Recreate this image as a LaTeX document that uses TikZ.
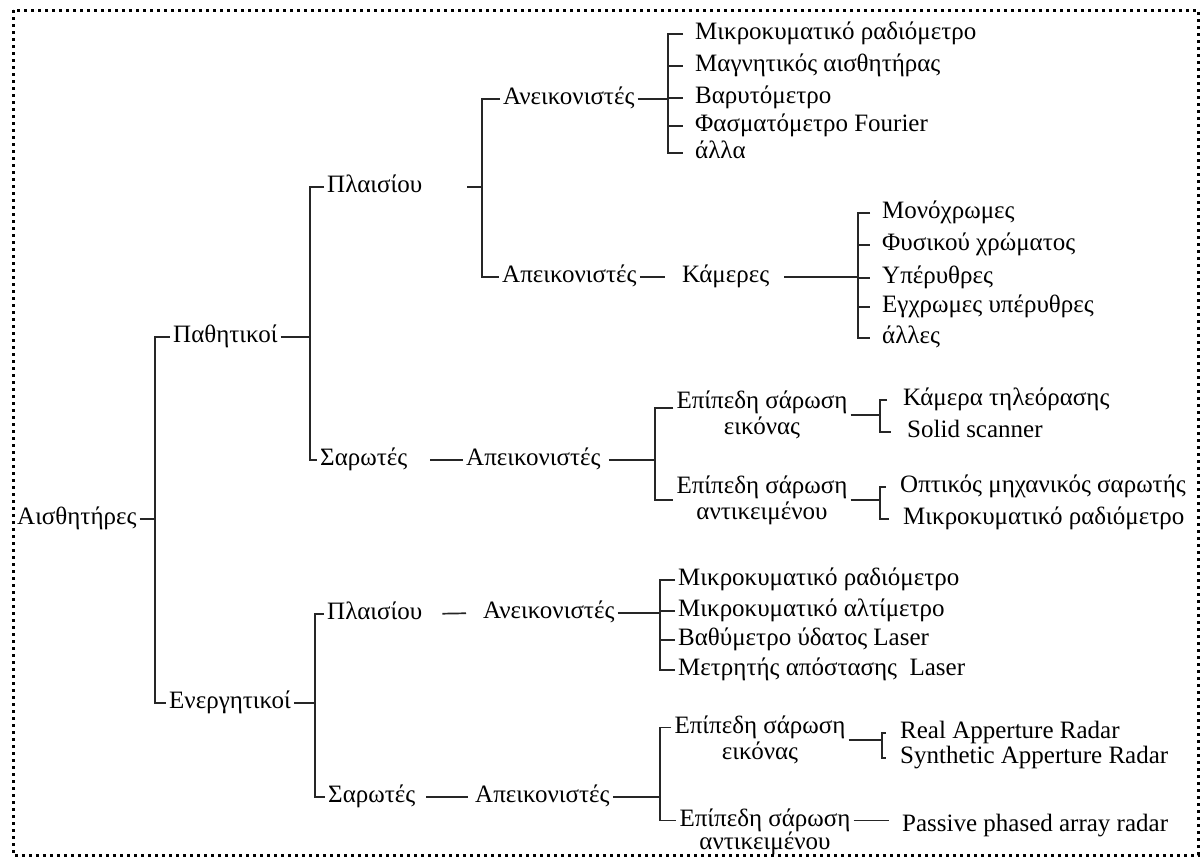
\documentclass[tikz,border=0pt]{standalone}
\usepackage{fontspec}
\setmainfont{Liberation Serif}
\begin{document}
\begin{tikzpicture}[x=1pt,y=-1pt,
  lbl/.style={anchor=west,inner xsep=3pt,inner ysep=0pt,text height=12pt,text depth=1pt,font=\fontsize{25}{26}\selectfont},
  leaf/.style={lbl,inner xsep=12pt},
  two/.style={align=center,inner xsep=3pt,inner ysep=2pt,font=\fontsize{25}{26}\selectfont},
  ln/.style={line width=1.7pt,draw=black!85},
  frame/.style={line width=3pt,dash pattern=on 3pt off 4pt}]
\useasboundingbox (0,0) rectangle (1203,857);
\draw[frame] (13,10) rectangle (1198,855);

% bracket positions
\coordinate (b0) at (155,0);
\coordinate (bP) at (310,0);
\coordinate (bE) at (315,0);
\coordinate (bpP) at (482,0);
\coordinate (bpAn) at (668,0);
\coordinate (bpK) at (858,0);
\coordinate (bpSA) at (655,0);
\coordinate (bpE) at (880,0);
\coordinate (baAn) at (660,0);
\coordinate (baSA) at (660,0);
\coordinate (baE1) at (882,0);

% main nodes
\node[lbl] (A) at (14,519) {Αισθητήρες};
\node[lbl] (P) at (170,337) {Παθητικοί};
\node[lbl] (E) at (166,703) {Ενεργητικοί};
\node[lbl] (pP) at (324,187) {Πλαισίου};
\node[lbl] (pS) at (317,460) {Σαρωτές};
\node[lbl] (pAn) at (500,99) {Ανεικονιστές};
\node[lbl] (pAp) at (499,277) {Απεικονιστές};
\node[lbl] (pK) at (679,277) {Κάμερες};
\node[lbl] (pSA) at (463,460) {Απεικονιστές};
\node[two] (pE1) at (762,415) {Επίπεδη σάρωση\\εικόνας};
\node[two] (pE2) at (762,500) {Επίπεδη σάρωση\\αντικειμένου};
\node[lbl] (aP) at (324,614) {Πλαισίου};
\node[lbl] (aS) at (325,797) {Σαρωτές};
\node[lbl] (aAn) at (480,613) {Ανεικονιστές};
\node[lbl] (aSA) at (472,797) {Απεικονιστές};
\node[two] (aE1) at (760,740) {Επίπεδη σάρωση\\εικόνας};
\node[two,font=\fontsize{25}{23}\selectfont] (aE2) at (765,832) {Επίπεδη σάρωση\\αντικειμένου};

% leaves
\node[leaf] (pAn1) at (683,34) {Μικροκυματικό ραδιόμετρο};
\node[leaf] (pAn2) at (683,66) {Μαγνητικός αισθητήρας};
\node[leaf] (pAn3) at (683,98) {Βαρυτόμετρο};
\node[leaf] (pAn4) at (683,126) {Φασματόμετρο Fourier};
\node[leaf] (pAn5) at (683,153) {άλλα};
\node[leaf] (pK1) at (870,213) {Μονόχρωμες};
\node[leaf] (pK2) at (870,245) {Φυσικού χρώματος};
\node[leaf] (pK3) at (870,278) {Υπέρυθρες};
\node[leaf] (pK4) at (870,307) {Εγχρωμες υπέρυθρες};
\node[leaf] (pK5) at (870,338) {άλλες};
\node[leaf,inner xsep=16pt] (pE1a) at (887,400) {Κάμερα τηλεόρασης};
\node[leaf,inner xsep=16pt] (pE1b) at (891,432) {Solid scanner};
\node[leaf,inner xsep=14pt] (pE2a) at (886,487) {Οπτικός μηχανικός σαρωτής};
\node[leaf,inner xsep=14pt] (pE2b) at (889,519) {Μικροκυματικό ραδιόμετρο};
\node[lbl] (aAn1) at (675,580) {Μικροκυματικό ραδιόμετρο};
\node[lbl] (aAn2) at (675,611) {Μικροκυματικό αλτίμετρο};
\node[lbl] (aAn3) at (675,640) {Βαθύμετρο ύδατος Laser};
\node[lbl] (aAn4) at (675,670) {Μετρητής απόστασης~ Laser};
\node[leaf,inner xsep=14pt] (aE1a) at (886,733) {Real Apperture Radar};
\node[leaf,inner xsep=14pt] (aE1b) at (886,758) {Synthetic Apperture Radar};
\node[lbl] (aE2a) at (899,826) {Passive phased array radar};

% root
\draw[ln] (A.east) -- (b0 |- A.east);
\draw[ln] (P.west) -- (b0 |- P.west) -- (b0 |- E.west) -- (E.west);
% passive
\draw[ln] (P.east) -- (bP |- P.east);
\draw[ln] (pP.west) -- (bP |- pP.west) -- (bP |- pS.west) -- (pS.west);
\coordinate (pPx) at (467,187);
\draw[ln] (pPx) -- (bpP |- pPx);
\draw[ln] (pAn.west) -- (bpP |- pAn.west) -- (bpP |- pAp.west) -- (pAp.west);
\draw[ln] (pAn.east) -- (bpAn |- pAn.east);
\draw[ln] (pAn1.west) -- (bpAn |- pAn1.west) -- (bpAn |- pAn5.west) -- (pAn5.west);
\foreach \i in {2,3,4} \draw[ln] (bpAn |- pAn\i.west) -- (pAn\i.west);
\draw[ln, shorten >=14pt] (pAp.east) -- (pK.west);
\draw[ln, shorten <=12pt] (pK.east) -- (bpK |- pK.east);
\draw[ln] (pK1.west) -- (bpK |- pK1.west) -- (bpK |- pK5.west) -- (pK5.west);
\foreach \i in {2,3,4} \draw[ln] (bpK |- pK\i.west) -- (pK\i.west);
\draw[ln, shorten <=20pt] (pS.east) -- (pSA.west);
\draw[ln, shorten <=5pt] (pSA.east) -- (bpSA |- pSA.east);
\coordinate (pE1t) at ([yshift=7pt]pE1.west);
\draw[ln] (pE1t) -- (bpSA |- pE1t) -- (bpSA |- pE2.west) -- (pE2.west);
\draw[ln] (pE1.east) -- (bpE |- pE1.east);
\draw[ln] (pE1a.west) -- (bpE |- pE1a.west) -- (bpE |- pE1b.west) -- (pE1b.west);
\draw[ln] (pE2.east) -- (bpE |- pE2.east);
\draw[ln] (pE2a.west) -- (bpE |- pE2a.west) -- (bpE |- pE2b.west) -- (pE2b.west);
% active
\draw[ln] (E.east) -- (bE |- E.east);
\draw[ln] (aP.west) -- (bE |- aP.west) -- (bE |- aS.west) -- (aS.west);
\draw[ln, shorten <=17pt, shorten >=14pt] (aP.east) -- (aAn.west);
\draw[ln] (aAn.east) -- (baAn |- aAn.east);
\draw[ln] (aAn1.west) -- (baAn |- aAn1.west) -- (baAn |- aAn4.west) -- (aAn4.west);
\foreach \i in {2,3} \draw[ln] (baAn |- aAn\i.west) -- (aAn\i.west);
\draw[ln, shorten <=8pt, shorten >=4pt] (aS.east) -- (aSA.west);
\draw[ln] (aSA.east) -- (baSA |- aSA.east);
\coordinate (aE1t) at ([yshift=12.5pt]aE1.west);
\coordinate (aE2t) at ([yshift=11.5pt]aE2.west);
\draw[ln] (aE1t) -- (baSA |- aE1t) -- (baSA |- aE2t) -- (aE2t);
\draw[ln] (aE1.east) -- (baE1 |- aE1.east);
\draw[ln] (aE1a.west) -- (baE1 |- aE1a.west) -- (baE1 |- aE1b.west) -- (aE1b.west);
\coordinate (aE2r) at ([yshift=11.5pt]aE2.east);
\draw[ln, shorten >=10pt] (aE2r) -- (aE2a.west |- aE2r);
\end{tikzpicture}
\end{document}
